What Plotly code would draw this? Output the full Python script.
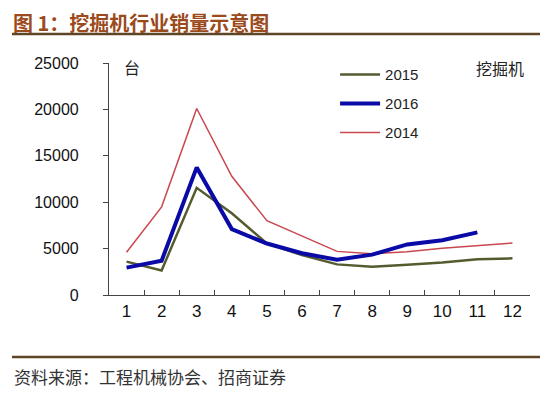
import plotly.graph_objects as go

months = ["1", "2", "3", "4", "5", "6", "7", "8", "9", "10", "11", "12"]
sales_2015 = [3600, 2650, 11550, 8800, 5550, 4300, 3300, 3050, 3250, 3500, 3850, 3950]
sales_2016 = [2950, 3700, 13750, 7100, 5550, 4500, 3800, 4350, 5450, 5900, 6750]
sales_2014 = [4600, 9500, 20100, 12800, 8000, 6350, 4700, 4450, 4650, 5050, 5300, 5600]
y_ticks = [0, 5000, 10000, 15000, 20000, 25000]

fig = go.Figure()
fig.add_trace(go.Scatter(x=months, y=sales_2014, mode="lines", name="2014",
                         line=dict(color="#C9474F", width=1.5), legendrank=3,
                         legendgroup="c"))
fig.add_trace(go.Scatter(x=months, y=sales_2015, mode="lines", name="2015",
                         line=dict(color="#535B2F", width=2.5), legendrank=1,
                         legendgroup="a"))
fig.add_trace(go.Scatter(x=months[:len(sales_2016)], y=sales_2016, mode="lines", name="2016",
                         line=dict(color="#0A0AA6", width=4), legendrank=2,
                         legendgroup="b"))

axis_font = dict(family="Liberation Sans, Arial, sans-serif", size=16, color="#111")

fig.update_layout(
    width=550, height=398,
    margin=dict(l=109, r=20, t=63, b=103),
    paper_bgcolor="white", plot_bgcolor="white",
    showlegend=True,
    legend=dict(x=0.537, y=1.02, xanchor="left", yanchor="top",
                font=dict(family="Liberation Sans, Arial, sans-serif", size=15, color="#222"),
                bgcolor="rgba(0,0,0,0)", itemwidth=40, tracegroupgap=6.5,
                traceorder="grouped"),
    xaxis=dict(type="category", categoryorder="array", categoryarray=months,
               showline=True, linecolor="#444", linewidth=1.2,
               ticks="inside", tickson="boundaries", ticklen=5, tickcolor="#444",
               showgrid=False, zeroline=False, tickfont=dict(axis_font, size=17),
               range=[-0.5, 11.5]),
    yaxis=dict(range=[0, 25000], tickvals=y_ticks, ticktext=[str(v) for v in y_ticks],
               showline=True, linecolor="#444", linewidth=1.2,
               ticks="outside", ticklen=5, tickcolor="#444",
               showgrid=False, zeroline=False, tickfont=axis_font,
               ticklabelstandoff=21),
)

# Title and frame decoration
fig.add_annotation(text="<b>图 1：挖掘机行业销量示意图</b>", xref="paper", yref="paper",
                   x=-109/421, y=1 + (63-22)/232, xanchor="left", yanchor="middle",
                   showarrow=False, xshift=11,
                   font=dict(family="Noto Sans CJK SC", size=20, color="#9B4A1C"))
fig.add_shape(type="line", xref="paper", yref="paper",
              x0=(12-109)/421, x1=(540-109)/421, y0=1 + (63-34)/232, y1=1 + (63-34)/232,
              line=dict(color="#5E4526", width=2.5))
fig.add_shape(type="line", xref="paper", yref="paper",
              x0=(12-109)/421, x1=(540-109)/421, y0=-(357-295)/232, y1=-(357-295)/232,
              line=dict(color="#5E4526", width=2.5))
fig.add_annotation(text="资料来源：工程机械协会、招商证券", xref="paper", yref="paper",
                   x=(12-109)/421, y=-(376-295)/232, xanchor="left", yanchor="middle",
                   showarrow=False,
                   font=dict(family="Noto Sans CJK SC", size=17, color="#333"))
fig.add_annotation(text="台", xref="paper", yref="paper",
                   x=(132-109)/421, y=1 + (63-67)/232, xanchor="center", yanchor="middle",
                   showarrow=False,
                   font=dict(family="Noto Sans CJK SC", size=16, color="#222"))
fig.add_annotation(text="挖掘机", xref="paper", yref="paper",
                   x=(500-109)/421, y=1 + (63-68)/232, xanchor="center", yanchor="middle",
                   showarrow=False,
                   font=dict(family="Noto Sans CJK SC", size=16, color="#222"))

fig.write_html("out.html", config={"displayModeBar": False},
               post_script="document.body.style.margin='0';")
